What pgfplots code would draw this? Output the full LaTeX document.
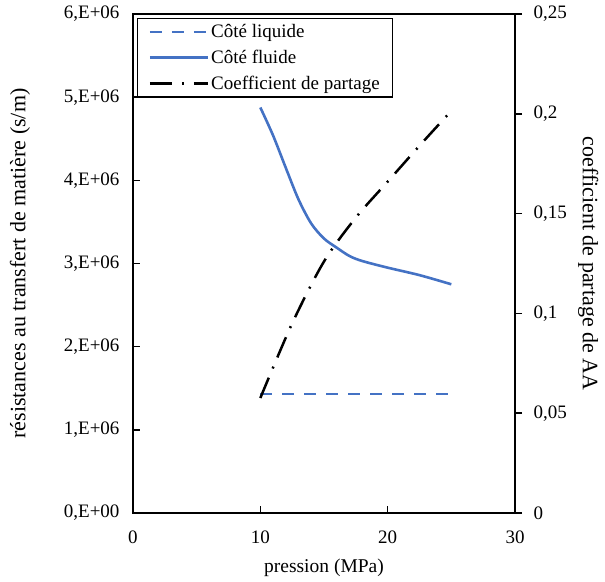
\documentclass[border=0pt]{standalone}
\usepackage{fontspec}
\setmainfont{Liberation Serif}
\usepackage{pgfplots}
\pgfplotsset{compat=1.18}
\definecolor{xlblue}{RGB}{68,114,196}
\newcommand{\tfont}{\fontsize{19bp}{23bp}\selectfont}
\begin{document}
\begin{tikzpicture}
\useasboundingbox (-133bp,-69bp) rectangle (472bp,513bp);
\begin{axis}[
  scale only axis,
  width=382bp, height=499bp,
  xmin=0, xmax=30, ymin=0, ymax=6000000,
  axis line style={line width=1.6bp},
  xtick={0,10,20,30}, xticklabels={0,10,20,30},
  ytick={0,1000000,2000000,3000000,4000000,5000000,6000000},
  yticklabels={{0,E+00},{1,E+06},{2,E+06},{3,E+06},{4,E+06},{5,E+06},{6,E+06}},
  xtick pos=bottom, ytick pos=left,
  tick align=inside,
  major tick length=7bp,
  tick style={line width=1.6bp, black},
  tick label style={font=\tfont},
  yticklabel style={xshift=-10bp},
  xticklabel style={yshift=-14bp},
  scaled y ticks=false,
  xlabel={pression (MPa)},
  xlabel style={font=\fontsize{19.5bp}{23bp}\selectfont, at={(axis description cs:0.5,-0.1102)}, anchor=center},
  ylabel={résistances au transfert de matière (s/m)},
  ylabel style={font=\fontsize{22bp}{26bp}\selectfont, at={(axis description cs:-0.2958,0.5)}, anchor=center, rotate=0},
  clip=false,
  extra description/.code={\draw[line width=1.6bp] (rel axis cs:0,1) -- (rel axis cs:1,1);},
]
\addplot[xlblue, line width=2.6bp, dash pattern=on 12bp off 10bp] coordinates {(10,1430000) (25,1430000)};
\addplot[xlblue, line width=2.6bp, smooth] coordinates {
(10,4876000) (11,4540000) (12,4150000) (13,3770000) (14,3480000) (15,3300000)
(16,3190000) (17,3090000) (18,3030000) (20,2950000) (22.5,2860000) (25,2750000)};
\end{axis}
\begin{axis}[
  scale only axis,
  width=382bp, height=499bp,
  xmin=0, xmax=30, ymin=0, ymax=0.25,
  axis x line=none,
  axis y line*=right,
  axis line style={line width=1.6bp},
  ytick={0,0.05,0.1,0.15,0.2,0.25},
  yticklabels={{0},{0,05},{0,1},{0,15},{0,2},{0,25}},
  tick align=outside,
  major tick length=7bp,
  tick style={line width=1.6bp, black},
  tick label style={font=\tfont},
  yticklabel style={xshift=8bp},
  ylabel={coefficient de partage de AA},
  ylabel style={font=\fontsize{22bp}{26bp}\selectfont, at={(axis description cs:1.192,0.5)}, anchor=center, rotate=180},
  legend style={at={(rel axis cs:0,1)}, anchor=north west, xshift=4bp, yshift=-4bp,
    draw=black, line width=1.3bp, font=\tfont, inner xsep=11bp, inner ysep=4bp,
    row sep=7bp, cells={anchor=west}},
  legend image code/.code={\draw[#1] (8bp,0bp) -- (66bp,0bp);},
  legend cell align=left,
]
\addlegendimage{xlblue, line width=2.6bp, dash pattern=on 12bp off 10bp}
\addlegendentry{Côté liquide}
\addlegendimage{xlblue, line width=2.6bp}
\addlegendentry{Côté fluide}
\addplot[black, line width=2.5bp, smooth, dash pattern=on 22bp off 10bp on 2bp off 10bp] coordinates {
(10,0.0576) (12.5,0.095) (15,0.126) (17.5,0.148) (20,0.166) (22.5,0.184) (25,0.2015)};
\addlegendentry{Coefficient de partage}
\end{axis}
\end{tikzpicture}
\end{document}
